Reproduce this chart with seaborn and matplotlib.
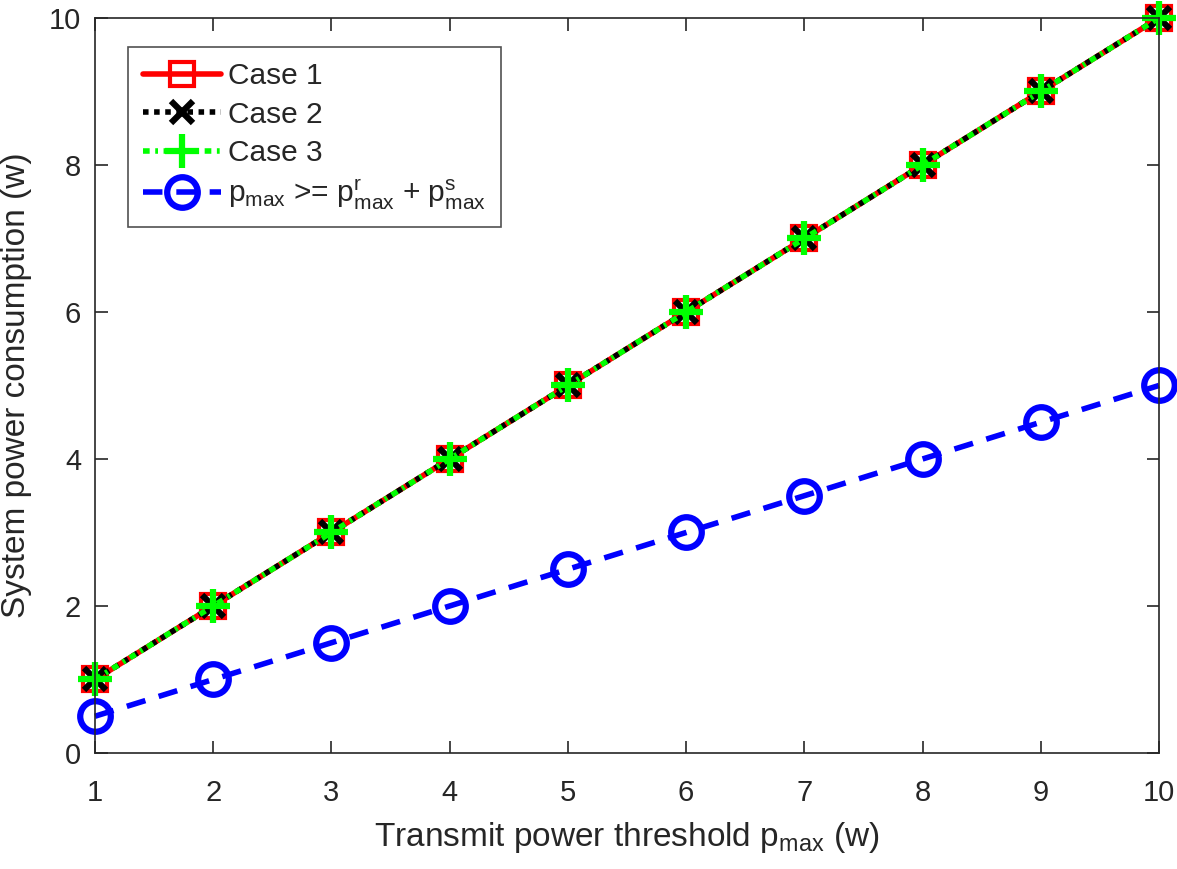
import numpy as np
import pandas as pd
import matplotlib
matplotlib.use("Agg")
import matplotlib.pyplot as plt
import seaborn as sns

x_vals = [1, 2, 3, 4, 5, 6, 7, 8, 9, 10]
case1 = [1, 2, 3, 4, 5, 6, 7, 8, 9, 10]
case2 = [1, 2, 3, 4, 5, 6, 7, 8, 9, 10]
case3 = [1, 2, 3, 4, 5, 6, 7, 8, 9, 10]
bound = [0.5, 1.0, 1.5, 2.0, 2.5, 3.0, 3.5, 4.0, 4.5, 5.0]
labels = ["Case 1", "Case 2", "Case 3",
          r"$\mathregular{p_{max}}$ >= $\mathregular{p^r_{max}}$ + $\mathregular{p^s_{max}}$"]

sns.set_theme(style="white")
plt.rcParams['font.family'] = ['Liberation Sans', 'DejaVu Sans']
plt.rcParams['mathtext.fontset'] = 'custom'
plt.rcParams['mathtext.rm'] = 'Liberation Sans'
plt.rcParams['mathtext.it'] = 'Liberation Sans'

fig = plt.figure(figsize=(11.77, 8.69), dpi=100)
ax = fig.add_axes([0.0807, 0.1335, 0.904, 0.8458])

df = pd.DataFrame({"x": x_vals * 4,
                   "y": case1 + case2 + case3 + bound,
                   "series": sum([[l] * len(x_vals) for l in labels], [])})

styles = [
    dict(color="#ff0000", ls="-", marker="s", ms=17, mfc="none", mew=3),
    dict(color="#000000", ls=(0, (1.0, 1.0)), marker="x", ms=16, mfc="none", mew=4.5),
    dict(color="#00ff00", ls=(0, (1.2, 1.0, 0.5, 1.0)), marker="+", ms=25, mfc="none", mew=4.5),
    dict(color="#0000ff", ls=(0, (3.5, 2.5)), marker="o", ms=22, mfc="none", mew=4.5),
]
for lab, st in zip(labels, styles):
    sub = df[df["series"] == lab]
    sns.lineplot(data=sub, x="x", y="y", ax=ax, color=st["color"], linestyle=st["ls"],
                 marker=st["marker"], markersize=st["ms"], markerfacecolor=st["mfc"],
                 markeredgecolor=st["color"], markeredgewidth=st["mew"], linewidth=4,
                 label=lab, clip_on=False)

ax.set_xlim(1, 10)
ax.set_ylim(0, 10)
ax.set_xticks(range(1, 11))
ax.set_yticks(range(0, 11, 2))
axc = "#262626"
for s in ax.spines.values():
    s.set_color(axc)
    s.set_linewidth(1.2)
ax.tick_params(direction="in", length=9, width=1.2, colors=axc, labelsize=21,
               top=True, right=True, bottom=True, left=True, pad=10)
ax.tick_params(axis="x", pad=19)
ax.set_xlabel(r"Transmit power threshold $\mathregular{p_{max}}$ (w)", fontsize=24, color=axc)
ax.set_ylabel("System power consumption (w)", fontsize=24, color=axc)
ax.xaxis.set_label_coords(0.5, -0.091)
ax.yaxis.set_label_coords(-0.059, 0.5)

leg = ax.legend(loc="upper left", bbox_to_anchor=(0.031, 0.96), fontsize=21.5, frameon=True,
                fancybox=False, edgecolor=axc, handlelength=2.6, borderpad=0.5,
                labelspacing=0.35, handletextpad=0.25, borderaxespad=0)
leg.get_frame().set_linewidth(1.2)

fig.savefig("out.png", dpi=100)
